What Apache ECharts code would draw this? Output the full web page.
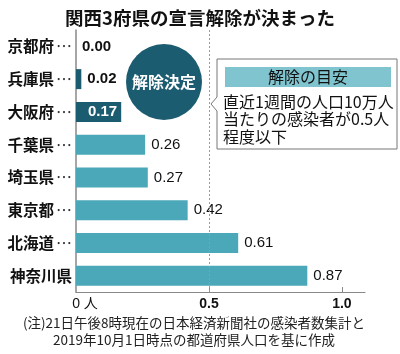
<!DOCTYPE html>
<html>
<head>
<meta charset="utf-8">
<script src="https://cdn.jsdelivr.net/npm/echarts@6/dist/echarts.min.js"></script>
<style>
  html, body { margin: 0; padding: 0; background: #fff; }
  #chart { width: 400px; height: 354px; }
</style>
</head>
<body>
<div id="chart"></div>
<script>
// 都道府県と直近1週間の人口10万人当たり感染者数
const categories = ["京都府", "兵庫県", "大阪府", "千葉県", "埼玉県", "東京都", "北海道", "神奈川県"];
const values = [0.00, 0.02, 0.17, 0.26, 0.27, 0.42, 0.61, 0.87];
const decided = ["京都府", "兵庫県", "大阪府"]; // 宣言解除が決まった府県
const xTicks = [0, 0.5, 1.0];
const guideValue = 0.5; // 解除の目安

const DARK = "#1c5c70";
const LIGHT = "#4aa8b8";
const JP = '"Noto Sans CJK JP", sans-serif';
const NUM = '"Liberation Sans", "Noto Sans CJK JP", sans-serif';

const chart = echarts.init(document.getElementById("chart"));

const barData = values.map((v, i) => {
  const hot = decided.includes(categories[i]);
  const inside = hot && v > 0.1; // 大阪府は棒の中に数字
  return {
    value: v,
    itemStyle: { color: hot ? DARK : LIGHT },
    label: {
      position: inside ? "insideRight" : "right",
      distance: inside ? 4 : 6,
      color: inside ? "#fff" : "#111",
      fontWeight: hot ? "bold" : "normal",
    },
  };
});

const option = {
  animation: false,
  title: {
    text: "関西3府県の宣言解除が決まった",
    left: "center",
    top: 4,
    textStyle: { fontFamily: JP, fontSize: 18.5, fontWeight: "bold", color: "#111" },
  },
  grid: { left: 76, right: 35, top: 30, bottom: 62 },
  xAxis: {
    type: "value",
    min: 0,
    max: 1.087,
    interval: 0.5,
    axisLine: { show: true, lineStyle: { color: "#888", width: 1.2 } },
    axisTick: {
      show: true,
      inside: true,
      length: 5,
      customValues: xTicks.filter((t) => t > 0),
      lineStyle: { color: "#888" },
    },
    splitLine: { show: false },
    axisLabel: {
      customValues: xTicks,
      margin: 5,
      fontFamily: NUM,
      fontSize: 14,
      fontWeight: "bold",
      color: "#111",
      formatter: (v) => (v === 0 ? "{z|0 人}" : v.toFixed(1)),
      rich: {
        z: { fontFamily: NUM, fontSize: 14, fontWeight: "normal", color: "#111", padding: [0, 0, 0, 18] },
      },
    },
  },
  yAxis: {
    type: "category",
    data: categories,
    inverse: true,
    axisLine: { show: true, lineStyle: { color: "#888", width: 1.5 } },
    axisTick: { show: false },
    axisLabel: {
      margin: 4,
      fontFamily: JP,
      fontSize: 15.5,
      fontWeight: "bold",
      color: "#111",
      formatter: (name) => (name.length < 4 ? name + "{d|⋯}" : name),
      rich: {
        d: { fontFamily: JP, fontSize: 16, fontWeight: "normal", color: "#333", padding: [0, 0, 0, 2] },
      },
    },
  },
  series: [
    {
      type: "line",
      data: [],
      z: 1,
      markLine: {
        silent: true,
        symbol: "none",
        label: { show: false },
        lineStyle: { color: "#999", type: [2, 2], width: 1 },
        data: [{ xAxis: guideValue }],
      },
    },
    {
      type: "bar",
      z: 2,
      barWidth: 20,
      data: barData,
      label: {
        show: true,
        fontFamily: NUM,
        fontSize: 15,
        formatter: (p) => p.value.toFixed(2),
      },
    },
  ],
  graphic: [
    // 解除決定の丸
    {
      type: "circle",
      shape: { cx: 164, cy: 82, r: 38 },
      style: { fill: DARK },
    },
    {
      type: "text",
      x: 164,
      y: 82,
      style: {
        text: "解除決定",
        fill: "#fff",
        font: 'bold 16px "Noto Sans CJK JP"',
        textAlign: "center",
        textVerticalAlign: "middle",
      },
    },
    // 解除の目安の吹き出し
    {
      type: "polygon",
      shape: {
        points: [[217, 59], [397, 59], [397, 149], [217, 149], [217, 111], [211, 104], [217, 97]],
      },
      style: { fill: "#fff", stroke: "#777", lineWidth: 1 },
    },
    {
      type: "rect",
      shape: { x: 225, y: 67, width: 166, height: 20 },
      style: { fill: "#7fc4ce" },
    },
    {
      type: "text",
      x: 308,
      y: 77,
      style: {
        text: "解除の目安",
        fill: "#111",
        font: '16px "Noto Sans CJK JP"',
        textAlign: "center",
        textVerticalAlign: "middle",
      },
    },
    {
      type: "text",
      x: 223,
      y: 93,
      style: {
        text: "直近1週間の人口10万人\n当たりの感染者が0.5人\n程度以下",
        fill: "#111",
        font: '16px "Noto Sans CJK JP"',
        lineHeight: 17.5,
        textAlign: "left",
        textVerticalAlign: "top",
      },
    },
    // 注記
    {
      type: "text",
      x: 194,
      y: 314,
      style: {
        text: "(注)21日午後8時現在の日本経済新聞社の感染者数集計と\n2019年10月1日時点の都道府県人口を基に作成",
        fill: "#222",
        font: '13.5px "Noto Sans CJK JP"',
        lineHeight: 17,
        textAlign: "center",
        textVerticalAlign: "top",
      },
    },
  ],
};

chart.setOption(option);
</script>
</body>
</html>
